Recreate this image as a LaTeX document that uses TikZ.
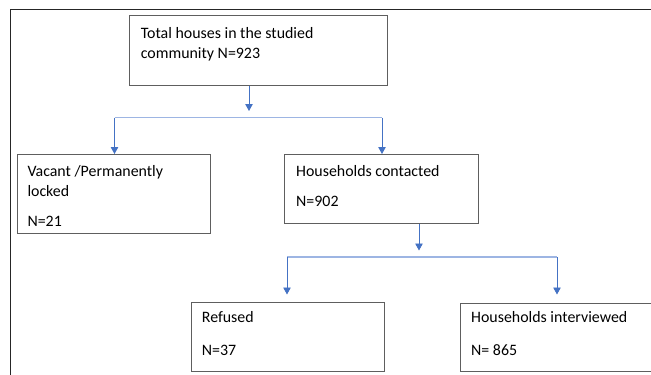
\documentclass[tikz,border=0pt]{standalone}
\usepackage{fontspec}
\setmainfont{Carlito}
\usetikzlibrary{arrows.meta}
\definecolor{arrowblue}{HTML}{4472C4}
\definecolor{lineblue}{HTML}{9DB5E3}
\definecolor{boxgray}{HTML}{5E5E5E}
\tikzset{
 box/.style={draw=boxgray, line width=0.9pt, anchor=north west, inner sep=0pt},
 txt/.style={anchor=base west, inner sep=0pt, font=\fontsize{15.9}{18}\selectfont},
 arr/.style={draw=arrowblue, line width=0.9pt, -{Triangle[length=7pt,width=7.5pt]}},
 splitline/.style={draw=lineblue, line width=1.1pt},
 frameline/.style={draw=black!85, line width=1.3pt},
}
\begin{document}
\begin{tikzpicture}[x=1pt,y=-1pt]
\useasboundingbox (0,0) rectangle (651,375);
\clip (0,0) rectangle (651,375);
% outer frame
\coordinate (fbl) at (10.5,376);
\coordinate (ftl) at (10.5,9.5);
\coordinate (ftr) at (652,9.5);
\draw[frameline] (fbl) -- (ftl) -- (ftr);
% boxes
\node[box, minimum width=258pt, minimum height=70pt] (top) at (129,15) {};
\node[box, minimum width=193.5pt, minimum height=79pt] (vac) at (16.8,154) {};
\node[box, minimum width=194pt, minimum height=69pt] (con) at (284,154) {};
\node[box, minimum width=193.5pt, minimum height=68.5pt] (ref) at (190.8,302) {};
\node[box, minimum width=260pt, minimum height=68pt] (int) at (460,302.5) {};
% texts
\node[txt] (t1) at (140.7,38.7) {Total houses in the studied};
\node[txt] (t2) at (140.7,58.7) {community N=923};
\node[txt] (v1) at (27.3,176) {Vacant /Permanently};
\node[txt] (v2) at (27.3,196) {locked};
\node[txt] (v3) at (27.3,226.7) {N=21};
\node[txt] (c1) at (296,176) {Households contacted};
\node[txt] (c2) at (296,206.7) {N=902};
\node[txt] (r1) at (201.7,322) {Refused};
\node[txt] (r2) at (201.7,355) {N=37};
\node[txt] (i1) at (471,322) {Households interviewed};
\node[txt] (i2) at (471,355) {N= 865};
% first split
\coordinate (a1x) at (249,0);
\coordinate (a1end) at (249,111);
\coordinate (s1L) at (114.5,117.5);
\coordinate (s1R) at (382,117.5);
\draw[arr] (top.south -| a1x) -- (a1end);
\draw[splitline] (s1L) -- (s1R);
\draw[arr] (s1L) -- (s1L |- vac.north);
\draw[arr] (s1R) -- (s1R |- con.north);
% second split
\coordinate (a2x) at (419,0);
\coordinate (a2end) at (419,250.5);
\coordinate (s2L) at (287,257);
\coordinate (s2R) at (557,257);
\coordinate (e2L) at (287,294.5);
\coordinate (e2R) at (557,294.5);
\draw[arr] (con.south -| a2x) -- (a2end);
\draw[splitline] (s2L) -- (s2R);
\draw[arr] (s2L) -- (e2L);
\draw[arr] (s2R) -- (e2R);
\end{tikzpicture}
\end{document}
